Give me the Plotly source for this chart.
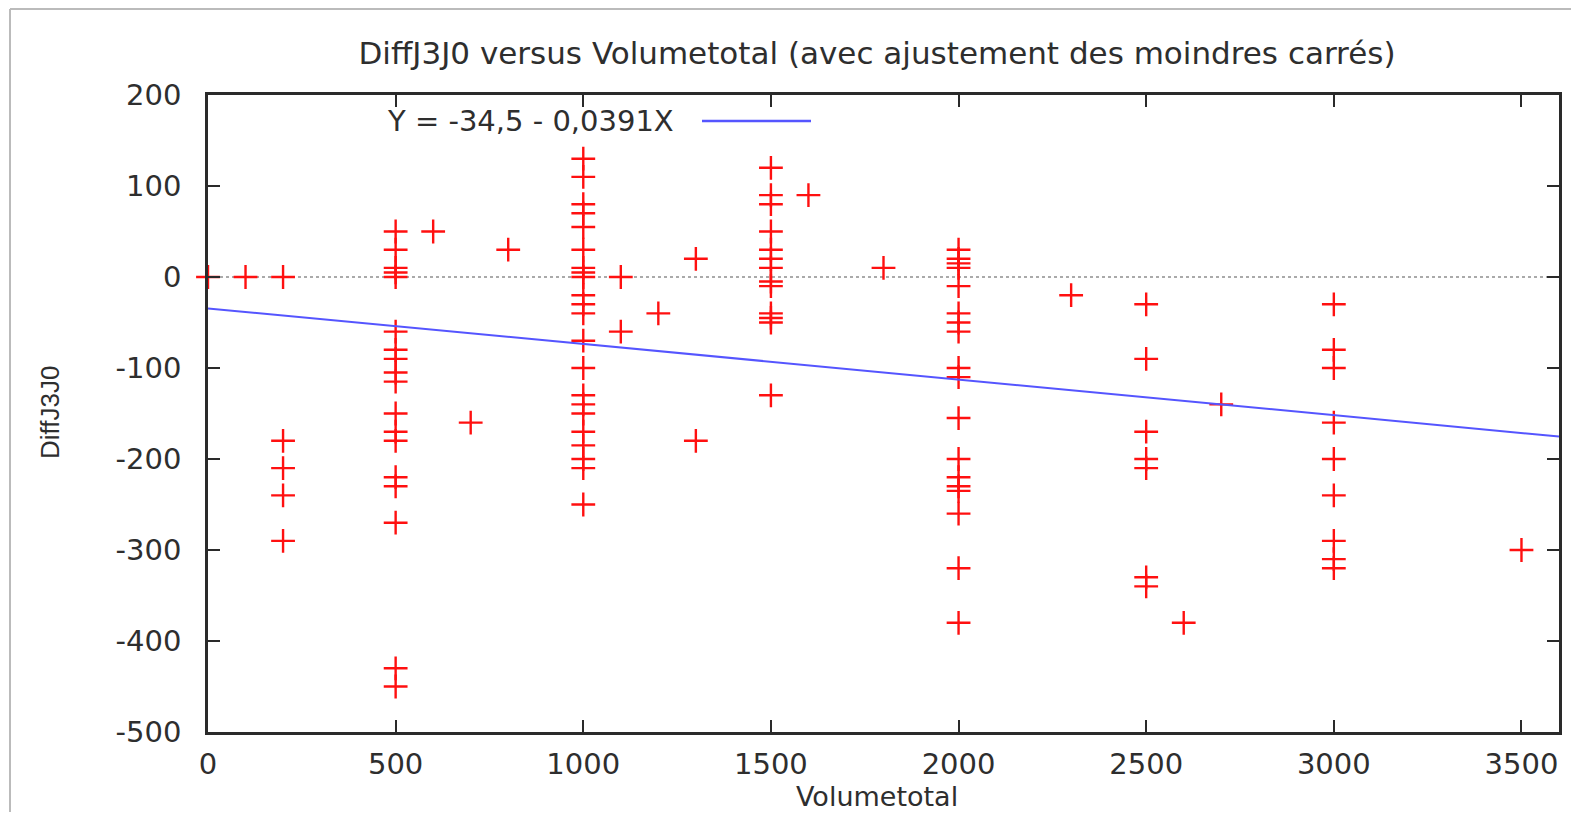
import plotly.graph_objects as go

# Data
vol = [0, 100,
       200, 200, 200, 200, 200,
       500, 500, 500, 500, 500, 500, 500, 500, 500, 500, 500, 500, 500, 500, 500, 500, 500, 500,
       600, 700, 800,
       1000, 1000, 1000, 1000, 1000, 1000, 1000, 1000, 1000, 1000, 1000, 1000, 1000, 1000, 1000,
       1000, 1000, 1000, 1000, 1000, 1000, 1000,
       1100, 1100, 1200, 1300, 1300,
       1500, 1500, 1500, 1500, 1500, 1500, 1500, 1500, 1500, 1500, 1500, 1500, 1500,
       1600, 1800,
       2000, 2000, 2000, 2000, 2000, 2000, 2000, 2000, 2000, 2000, 2000, 2000, 2000, 2000, 2000,
       2000, 2000, 2000,
       2300,
       2500, 2500, 2500, 2500, 2500, 2500, 2500,
       2600, 2700,
       3000, 3000, 3000, 3000, 3000, 3000, 3000, 3000, 3000,
       3500]
diff = [0, 0,
        0, -180, -210, -240, -290,
        50, 30, 10, 5, 0, -60, -80, -90, -105, -115, -150, -170, -180, -220, -230, -270, -430, -450,
        50, -160, 30,
        130, 110, 80, 70, 55, 30, 10, 5, 0, -20, -30, -40, -70, -100, -130,
        -140, -150, -170, -185, -200, -210, -250,
        0, -60, -40, 20, -180,
        120, 90, 80, 50, 30, 20, 10, -5, -10, -40, -45, -50, -130,
        90, 10,
        30, 20, 15, 10, -10, -40, -50, -60, -100, -110, -155, -200, -220, -230, -235,
        -260, -320, -380,
        -20,
        -30, -90, -170, -200, -210, -330, -340,
        -380, -140,
        -30, -80, -100, -160, -200, -240, -290, -310, -320,
        -300]

fit_x = [0, 3600]
fit_y = [-34.5, -175.3]
fit_label = "Y = -34,5 - 0,0391X"

x_ticks = [0, 500, 1000, 1500, 2000, 2500, 3000, 3500]
y_ticks = [200, 100, 0, -100, -200, -300, -400, -500]

FONT = "DejaVu Sans"
TXT = "#2e2e2e"
AXC = "#2a2a2a"
LINE_BLUE = "#5555ff"

# The page body has an 8px margin; lay out in page pixels and convert.
OFF = 8
W, H = 1579 - 2 * OFF, 820 - 2 * OFF
P_LEFT, P_RIGHT, P_TOP, P_BOTTOM = 208, 1559, 95, 732   # plot area in page pixels
L = P_LEFT - OFF
R = W - (P_RIGHT - OFF)
T = P_TOP - OFF
B = H - (P_BOTTOM - OFF)
pw, ph = W - L - R, H - T - B

def px_x(px):
    return (px - P_LEFT) / pw

def px_y(py):
    return (P_BOTTOM - py) / ph

fig = go.Figure()
fig.add_trace(go.Scatter(
    x=vol, y=diff, mode="markers",
    marker=dict(symbol="cross-thin", size=17, color="#ff0000",
                line=dict(color="#ff1010", width=2.4)),
    showlegend=False, cliponaxis=False))
fig.add_trace(go.Scatter(
    x=fit_x, y=fit_y, mode="lines",
    line=dict(color=LINE_BLUE, width=2),
    showlegend=False))

shapes = [
    dict(type="line", xref="paper", yref="y", x0=0, x1=1, y0=0, y1=0,
         line=dict(color="#aaaaaa", width=2, dash="dot"), layer="below"),
    dict(type="line", xref="paper", yref="paper", x0=px_x(702), x1=px_x(811),
         y0=px_y(121), y1=px_y(121), line=dict(color=LINE_BLUE, width=2.5)),
    dict(type="line", xref="paper", yref="paper", x0=px_x(10), x1=px_x(1580),
         y0=px_y(9), y1=px_y(9), line=dict(color="#bbbbbb", width=2)),
    dict(type="line", xref="paper", yref="paper", x0=px_x(10), x1=px_x(10),
         y0=px_y(9), y1=px_y(830), line=dict(color="#bbbbbb", width=2)),
]

annotations = [
    dict(text=fit_label, xref="paper", yref="paper", x=px_x(676), y=px_y(121),
         xanchor="right", yanchor="middle", showarrow=False,
         font=dict(family=FONT, size=29, color=TXT)),
    dict(text="DiffJ3J0", xref="paper", yref="paper", x=px_x(50), y=px_y(413),
         xanchor="center", yanchor="middle", textangle=-90, showarrow=False,
         font=dict(family="Liberation Sans", size=26, color=TXT)),
    dict(text="Volumetotal", xref="paper", yref="paper", x=px_x(877), y=px_y(797),
         xanchor="center", yanchor="middle", showarrow=False,
         font=dict(family=FONT, size=27, color=TXT)),
]

fig.update_layout(
    width=W, height=H,
    margin=dict(l=L, r=R, t=T, b=B, autoexpand=False),
    paper_bgcolor="white", plot_bgcolor="white",
    title=dict(text="DiffJ3J0 versus Volumetotal (avec ajustement des moindres carrés)",
               x=(877 - OFF) / W, xanchor="center", xref="container",
               y=1 - (53 - OFF) / H, yanchor="middle", yref="container",
               font=dict(family=FONT, size=31, color=TXT)),
    shapes=shapes, annotations=annotations,
    showlegend=False,
    xaxis=dict(range=[0, 3600], tickvals=x_ticks, ticktext=[str(v) for v in x_ticks],
               showgrid=False, zeroline=False,
               showline=True, linecolor=AXC, linewidth=2.5, mirror="ticks",
               ticks="inside", ticklen=12, tickwidth=2, tickcolor=AXC,
               ticklabelstandoff=4,
               tickfont=dict(family=FONT, size=29, color=TXT)),
    yaxis=dict(range=[-500, 200], tickvals=y_ticks, ticktext=[str(v) for v in y_ticks],
               showgrid=False, zeroline=False,
               showline=True, linecolor=AXC, linewidth=2.5, mirror="ticks",
               ticks="inside", ticklen=12, tickwidth=2, tickcolor=AXC,
               ticklabelstandoff=18,
               tickfont=dict(family=FONT, size=29, color=TXT)),
)

fig.write_html("out.html")
